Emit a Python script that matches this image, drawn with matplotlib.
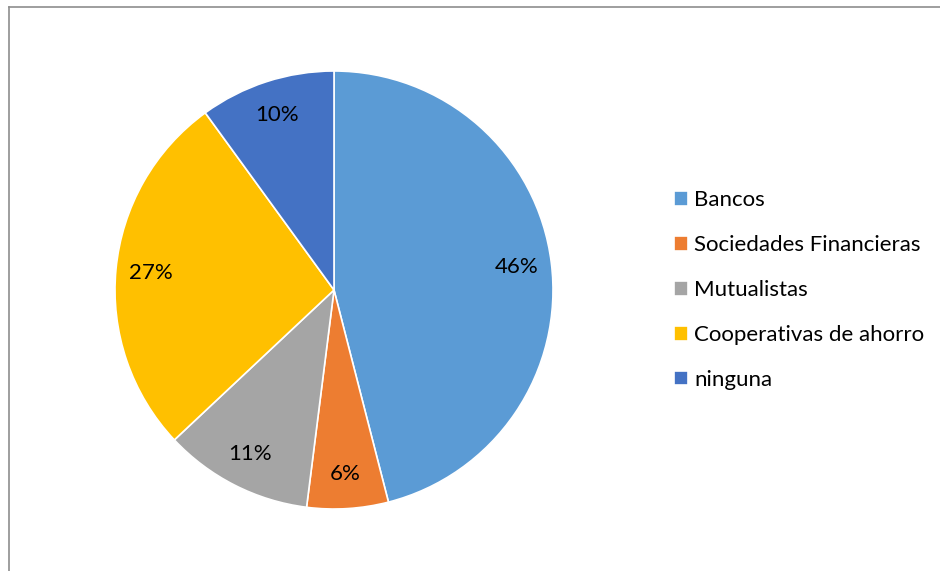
import matplotlib.pyplot as plt
from matplotlib.lines import Line2D

# datos
categorias = ['Bancos', 'Sociedades Financieras', 'Mutualistas',
              'Cooperativas de ahorro', 'ninguna']
valores = [46, 6, 11, 27, 10]
colores = ['#5B9BD5', '#ED7D31', '#A5A5A5', '#FFC000', '#4472C4']

plt.rcParams['font.family'] = ['Lato', 'DejaVu Sans']

W, H = 940, 571
fig = plt.figure(figsize=(W / 100, H / 100), dpi=100)

# marco gris (solo arriba e izquierda visibles)
fig.add_artist(Line2D([8.5 / W, 1], [1 - 6.5 / H, 1 - 6.5 / H],
                      transform=fig.transFigure, color='#8E8E8E', lw=1.2))
fig.add_artist(Line2D([8.5 / W, 8.5 / W], [0, 1 - 6.5 / H],
                      transform=fig.transFigure, color='#8E8E8E', lw=1.2))

cx, cy, r = 334, 290, 219
ax = fig.add_axes([(cx - r) / W, 1 - (cy + r) / H, 2 * r / W, 2 * r / H])
wedges, texts, autotexts = ax.pie(
    valores, colors=colores, startangle=90, counterclock=False,
    autopct='%1.0f%%', pctdistance=0.84, radius=1,
    wedgeprops=dict(edgecolor='white', linewidth=1.2),
    textprops=dict(fontsize=16, color='#000000'))
ax.set_xlim(-1, 1)
ax.set_ylim(-1, 1)
ax.set_aspect('equal')

leg = fig.legend(wedges, categorias, loc='center left',
                 bbox_to_anchor=(654 / W, 1 - 290 / H), frameon=False,
                 fontsize=16, handlelength=0.65, handleheight=0.65,
                 handletextpad=0.25, labelspacing=1.12)

fig.savefig('out.png', dpi=100)
